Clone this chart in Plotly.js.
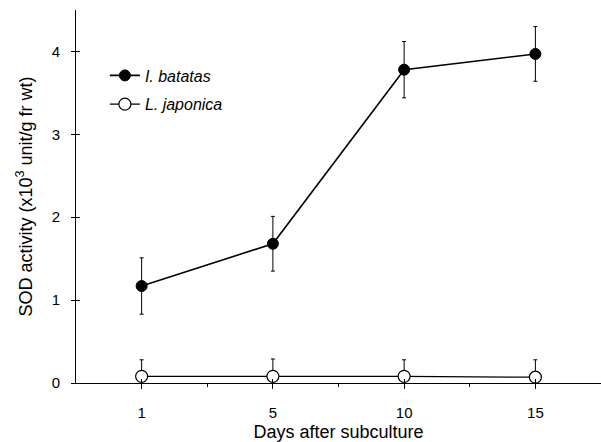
<!DOCTYPE html>
<html><head><meta charset="utf-8">
<script src="https://cdn.plot.ly/plotly-3.0.1.min.js"></script>
<style>body{margin:0;background:#fff}#c{width:601px;height:442px}</style>
</head><body><div id="c"></div>
<script>
const days = ["1", "5", "10", "15"];
const batatas = [1.17, 1.68, 3.78, 3.97];
const batatasErr = [0.34, 0.33, 0.34, 0.33];
const japonica = [0.08, 0.08, 0.08, 0.07];
const japonicaErr = [0.2, 0.21, 0.2, 0.21];
const idx = days.map((d, i) => i);

const traces = [
  {x: idx, y: batatas, name: 'I. batatas', legendgroup: 'a', mode: 'lines+markers', cliponaxis: false,
   line: {color: '#000', width: 1.6},
   marker: {symbol: 'circle', size: 11, color: '#000', line: {color: '#000', width: 1}},
   error_y: {type: 'data', array: batatasErr, color: '#000', thickness: 1, width: 2}},
  {x: idx, y: japonica, name: 'L. japonica', legendgroup: 'b', mode: 'lines+markers', cliponaxis: false,
   line: {color: '#000', width: 1.2},
   marker: {symbol: 'circle', size: 12, color: '#fff', line: {color: '#000', width: 1.2}},
   error_y: {type: 'data', array: japonicaErr, color: '#000', thickness: 1, width: 2}}
];

const layout = {
  width: 601, height: 442,
  margin: {l: 76, r: 0, t: 10, b: 59},
  paper_bgcolor: '#fff', plot_bgcolor: '#fff',
  font: {family: 'Liberation Sans, Arial, sans-serif', color: '#000', size: 15},
  showlegend: true,
  legend: {x: 0.055, y: 0.87, xanchor: 'left', yanchor: 'top', bgcolor: 'rgba(0,0,0,0)',
           font: {size: 16, style: 'italic'}, itemwidth: 30, tracegroupgap: 5, traceorder: 'grouped'},
  xaxis: {range: [-0.5, 3.5], tickmode: 'array', tickvals: idx, ticktext: days,
          showgrid: false, zeroline: false, showline: true, linecolor: '#000', linewidth: 1,
          ticks: 'outside', ticklen: 5, tickcolor: '#000', ticklabelstandoff: 11,
          tickfont: {size: 15},
          minor: {tickmode: 'array', tickvals: [0.5, 1.5, 2.5], ticks: 'outside', ticklen: 3, tickcolor: '#000', showgrid: false},
          title: {text: 'Days after subculture', font: {size: 18}, standoff: 5}},
  yaxis: {range: [0, 4.5], tickmode: 'array', tickvals: [0, 1, 2, 3, 4],
          showgrid: false, zeroline: false, showline: true, linecolor: '#000', linewidth: 1,
          ticks: 'outside', ticklen: 4, tickcolor: '#000', ticklabelstandoff: 8,
          tickfont: {size: 15},
          title: {text: 'SOD activity (x10<sup>3</sup> unit/g fr wt)', font: {size: 18}, standoff: 14}},
  xaxis2: {overlaying: 'x', range: [-0.5, 3.5], tickmode: 'array', tickvals: idx, showticklabels: false,
           ticks: 'inside', ticklen: 4, tickcolor: '#000', showgrid: false, zeroline: false, showline: false},
  yaxis2: {overlaying: 'y', range: [0, 4.5], tickmode: 'array', tickvals: [0, 1, 2, 3, 4], showticklabels: false,
           ticks: 'inside', ticklen: 4, tickcolor: '#000', showgrid: false, zeroline: false, showline: false}
};

traces.push({x: [0], y: [0], xaxis: 'x2', yaxis: 'y2', mode: 'markers', marker: {opacity: 0}, showlegend: false, hoverinfo: 'skip'});

Plotly.newPlot('c', traces, layout, {staticPlot: true});
</script></body></html>
